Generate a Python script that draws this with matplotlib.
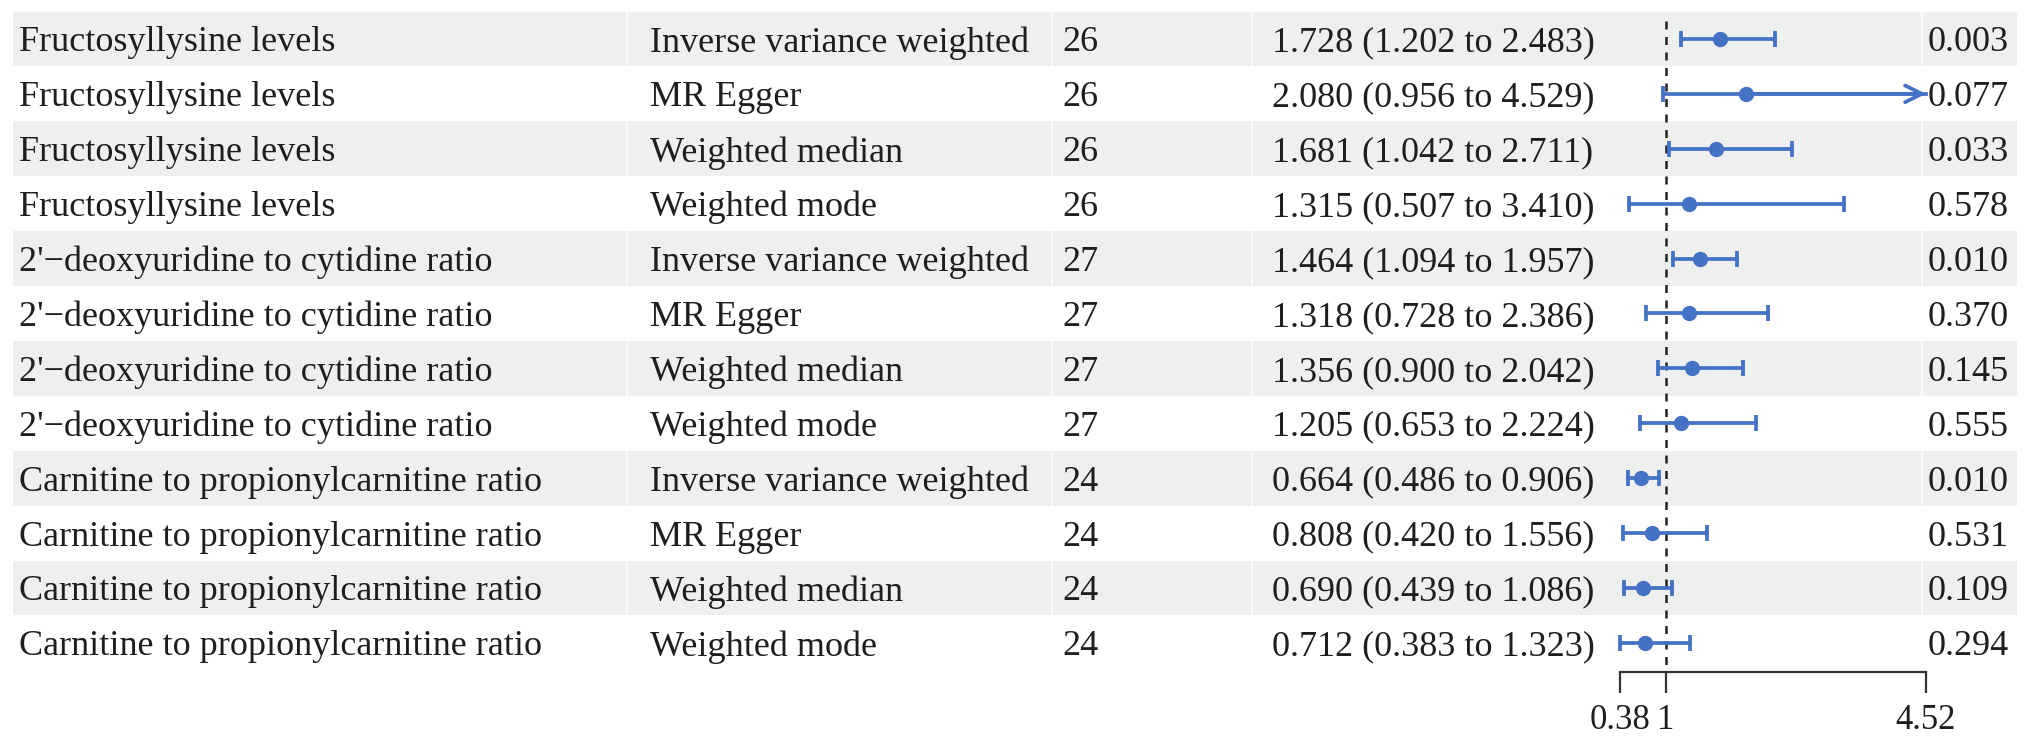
import matplotlib
matplotlib.use('Agg')
import matplotlib.pyplot as plt

plt.rcParams['font.family'] = ['Liberation Serif', 'DejaVu Serif']

# Datos de la tabla
exposicion = (["Fructosyllysine levels"] * 4
              + ["2'\u2212deoxyuridine to cytidine ratio"] * 4
              + ["Carnitine to propionylcarnitine ratio"] * 4)
metodo = ["Inverse variance weighted", "MR Egger", "Weighted median", "Weighted mode"] * 3
nsnp = [26, 26, 26, 26, 27, 27, 27, 27, 24, 24, 24, 24]
or_val = [1.728, 2.080, 1.681, 1.315, 1.464, 1.318, 1.356, 1.205, 0.664, 0.808, 0.690, 0.712]
ic_inf = [1.202, 0.956, 1.042, 0.507, 1.094, 0.728, 0.900, 0.653, 0.486, 0.420, 0.439, 0.383]
ic_sup = [2.483, 4.529, 2.711, 3.410, 1.957, 2.386, 2.042, 2.224, 0.906, 1.556, 1.086, 1.323]
pval = ["0.003", "0.077", "0.033", "0.578", "0.010", "0.370", "0.145", "0.555",
        "0.010", "0.531", "0.109", "0.294"]

x_ticks = [0.38, 1, 4.52]
x_ticklabels = ["0.38", "1", "4.52"]

azul = '#4472c4'
gris = '#edf0ef'
texto = '#1e1e1e'
fs = 26

W, H = 2032, 741
fig = plt.figure(figsize=(W / 100, H / 100), dpi=100)

# posicion vertical comun (filas)
y_bot = 1 - 672 / H
y_top = 1 - 11.5 / H
n = len(metodo)
ylim = (n - 0.47, -0.5)

# Eje de la tabla (coordenadas en pixeles de la figura)
ax_t = fig.add_axes([0, y_bot, 1, y_top - y_bot])
ax_t.set_xlim(0, W)
ax_t.set_ylim(*ylim)
ax_t.axis('off')

for i in range(n):
    if i % 2 == 0:
        ax_t.axhspan(i - 0.5, i + 0.5, xmin=13 / W, xmax=2017 / W, color=gris, lw=0, zorder=0)
    ax_t.text(19, i, exposicion[i], fontsize=fs, va='center_baseline', ha='left', color=texto)
    ax_t.text(650, i, metodo[i], fontsize=fs, va='center_baseline', ha='left', color=texto)
    ax_t.text(1062, i, str(nsnp[i]), fontsize=fs, va='center_baseline', ha='left', color=texto)
    ax_t.text(1272, i, f"{or_val[i]:.3f} ({ic_inf[i]:.3f} to {ic_sup[i]:.3f})",
              fontsize=fs, va='center_baseline', ha='left', color=texto)
    ax_t.text(2009, i, pval[i], fontsize=fs, va='center_baseline', ha='right', color=texto)

# separaciones blancas entre celdas (muy suaves)
for xb in [627, 1052, 1252, 1922]:
    ax_t.axvline(xb, color='white', lw=1.2, alpha=0.8, zorder=1)

# Eje del forest plot
x0, x1 = 1620 / W, 1926 / W
ax_f = fig.add_axes([x0, y_bot, x1 - x0, y_top - y_bot])
ax_f.patch.set_alpha(0)
ax_f.set_xlim(x_ticks[0], x_ticks[-1])
ax_f.set_ylim(*ylim)

ax_f.plot([1, 1], [-0.32, n - 0.47], color='#222222', lw=1.8, ls=(0, (3.2, 3.0)),
          clip_on=False, zorder=2)

xmax = x_ticks[-1]
lw_ic = 2.7
for i in range(n):
    hi = min(ic_sup[i], xmax)
    ax_f.plot([ic_inf[i], hi], [i, i], color=azul, lw=lw_ic, clip_on=False, zorder=3)
    ax_f.plot([ic_inf[i]], [i], marker='|', ms=11, mew=lw_ic, color=azul, clip_on=False, zorder=3)
    if ic_sup[i] > xmax:
        ax_f.annotate('', xy=(xmax, i), xytext=(or_val[i], i),
                      arrowprops=dict(arrowstyle='->', color=azul, lw=lw_ic,
                                      mutation_scale=30, shrinkA=0, shrinkB=0),
                      annotation_clip=False, zorder=3)
    else:
        ax_f.plot([hi], [i], marker='|', ms=11, mew=lw_ic, color=azul, clip_on=False, zorder=3)
    ax_f.plot(or_val[i], i, 'o', ms=10, color=azul, clip_on=False, zorder=4)

for s in ['top', 'right', 'left']:
    ax_f.spines[s].set_visible(False)
ax_f.spines['bottom'].set_bounds(x_ticks[0], x_ticks[-1])
ax_f.spines['bottom'].set_color('#333333')
ax_f.spines['bottom'].set_linewidth(1.6)
ax_f.set_yticks([])
ax_f.set_xticks(x_ticks)
ax_f.set_xticklabels(x_ticklabels, fontsize=25, color=texto)
ax_f.tick_params(axis='x', direction='out', length=15, width=1.6, color='#333333', pad=8)

fig.savefig('out.png', dpi=100)
